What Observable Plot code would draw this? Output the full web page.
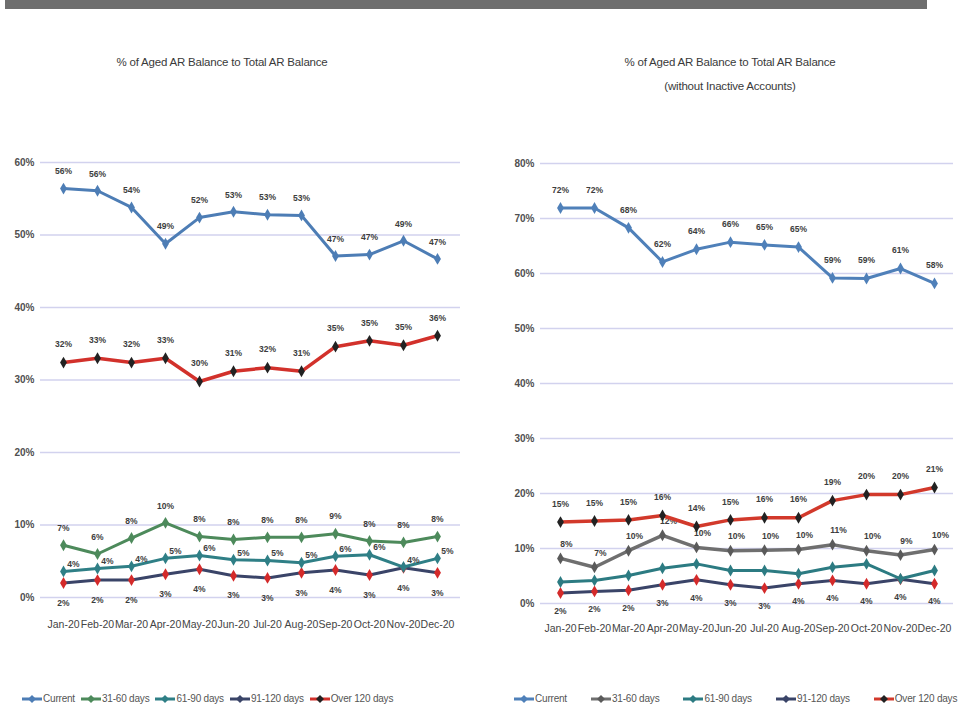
<!DOCTYPE html>
<html>
<head>
<meta charset="utf-8">
<script src="https://cdn.jsdelivr.net/npm/d3@7"></script>
<script src="https://cdn.jsdelivr.net/npm/@observablehq/plot@0.6"></script>
<style>
  html, body { margin: 0; padding: 0; background: #fff; }
  body { width: 963px; height: 713px; position: relative; overflow: hidden;
         font-family: "Liberation Sans", Arial, sans-serif; color: #444; }
  .band { position: absolute; left: 5px; top: 0; width: 922px; height: 9px; background: #6e6e6e; }
  .title { position: absolute; text-align: center; font-size: 11.5px; line-height: 24px; color: #3a3a3a; letter-spacing: -0.2px; }
  .chart { position: absolute; top: 130px; }
  .legend { position: absolute; top: 693px; display: flex; align-items: center; font-size: 10px; color: #555; white-space: nowrap; letter-spacing: -0.2px; }
  .legend span.item { display: inline-flex; align-items: center; }
  .legend svg { margin-right: 1px; }
</style>
</head>
<body>
<div class="band"></div>
<div class="title" style="left:0;top:50px;width:444px;">% of Aged AR Balance to Total AR Balance</div>
<div class="title" style="left:500px;top:50px;width:460px;">% of Aged AR Balance to Total AR Balance<br>(without Inactive Accounts)</div>
<div class="chart" id="left" style="left:0;"></div>
<div class="chart" id="right" style="left:485px;"></div>
<div class="legend" id="legendLeft" style="left:22px;"></div>
<div class="legend" id="legendRight" style="left:514px;"></div>
<script>
// Months on the x axis
const months = ["Jan-20","Feb-20","Mar-20","Apr-20","May-20","Jun-20","Jul-20","Aug-20","Sep-20","Oct-20","Nov-20","Dec-20"];
const seriesNames = ["Current","31-60 days","61-90 days","91-120 days","Over 120 days"];

// All accounts (% of total AR balance)
const allCurrent  = [56.4, 56.1, 53.8, 48.8, 52.4, 53.2, 52.8, 52.7, 47.1, 47.3, 49.2, 46.7];
const all31to60   = [7.2, 6.0, 8.2, 10.3, 8.4, 8.0, 8.3, 8.3, 8.8, 7.8, 7.6, 8.4];
const all61to90   = [3.6, 4.0, 4.3, 5.4, 5.8, 5.2, 5.1, 4.8, 5.7, 5.9, 4.2, 5.4];
const all91to120  = [2.0, 2.4, 2.4, 3.2, 3.9, 3.0, 2.7, 3.4, 3.8, 3.1, 4.1, 3.4];
const allOver120  = [32.4, 33.0, 32.4, 33.0, 29.8, 31.2, 31.7, 31.2, 34.6, 35.4, 34.8, 36.1];

// Without inactive accounts
const actCurrent  = [71.9, 71.9, 68.3, 62.1, 64.4, 65.7, 65.2, 64.8, 59.2, 59.1, 60.9, 58.2];
const act31to60   = [8.2, 6.6, 9.6, 12.4, 10.2, 9.6, 9.7, 9.8, 10.7, 9.6, 8.8, 9.8];
const act61to90   = [3.9, 4.2, 5.1, 6.4, 7.2, 6.0, 6.0, 5.4, 6.6, 7.2, 4.5, 6.0];
const act91to120  = [1.9, 2.2, 2.4, 3.4, 4.3, 3.4, 2.8, 3.6, 4.2, 3.6, 4.4, 3.6];
const actOver120  = [14.8, 15.0, 15.2, 16.0, 14.0, 15.2, 15.6, 15.6, 18.7, 19.8, 19.8, 21.1];

const labelFont = "Liberation Sans, Arial, sans-serif";
const pct = v => Math.round(v) + "%";

function rows(values) { return values.map((v, i) => ({month: months[i], value: v})); }

// One series: line, diamond markers and optional value labels
function seriesMarks(values, o) {
  const data = rows(values);
  const marks = [
    Plot.line(data, {x: "month", y: "value", stroke: o.stroke, strokeWidth: o.width ?? 3, strokeLinejoin: "round"}),
    Plot.dot(data, {x: "month", y: "value", symbol: "diamond", r: o.r ?? 3.6, fill: o.marker ?? o.stroke, stroke: "none"})
  ];
  if (o.label) {
    marks.push(Plot.text(data, {x: "month", y: "value", text: d => pct(d.value), dx: o.dx ?? 0, dy: o.dy ?? -16,
      fill: "#3d3d3d", fontSize: 8.5, fontWeight: "bold", fontFamily: labelFont}));
  }
  return marks;
}

function chart(o) {
  return Plot.plot({
    width: o.width, height: 520,
    marginLeft: o.marginLeft, marginRight: o.marginRight, marginTop: o.marginTop, marginBottom: o.marginBottom,
    style: {fontFamily: labelFont, background: "transparent", color: "#444", overflow: "visible"},
    x: {type: "point", domain: months, padding: o.padding},
    y: {domain: [0, o.yMax]},
    marks: [
      Plot.gridY(d3.range(0, o.yMax + 1, 10), {stroke: "#d2d2ee", strokeOpacity: 1, strokeWidth: 1.3}),
      Plot.axisY(d3.range(0, o.yMax + 1, 10), {tickSize: 0, tickPadding: 6, tickFormat: d => d + "%", fontSize: 10, fontWeight: "bold", fill: "#505050", label: null}),
      Plot.axisX({tickSize: 0, tickPadding: o.xPad, fontSize: 10.5, fill: "#444", label: null}),
      ...o.marks
    ]
  });
}

document.getElementById("left").append(chart({
  width: 480, marginLeft: 40, marginRight: 20, marginTop: 32, marginBottom: 53, padding: 0.58, yMax: 60, xPad: 23,
  marks: [
    ...seriesMarks(all91to120, {stroke: "#3a4468", marker: "#d42a2a", label: true, dy: 20}),
    ...seriesMarks(all61to90, {stroke: "#2f7f86", label: true, dx: 10, dy: -7}),
    ...seriesMarks(all31to60, {stroke: "#4d8a5b", label: true, dy: -17}),
    ...seriesMarks(allOver120, {stroke: "#d2312b", marker: "#222", width: 3.5, label: true, dy: -18}),
    ...seriesMarks(allCurrent, {stroke: "#4d7db5", label: true, dy: -17})
  ]
}));

document.getElementById("right").append(chart({
  width: 478, marginLeft: 55, marginRight: 10, marginTop: 33, marginBottom: 47, padding: 0.49, yMax: 80, xPad: 21,
  marks: [
    ...seriesMarks(act91to120, {stroke: "#3a4468", marker: "#d42a2a", label: true, dy: 18}),
    ...seriesMarks(act61to90, {stroke: "#2c7b82"}),
    ...seriesMarks(act31to60, {stroke: "#6f6f6f", marker: "#5a5a5a", width: 3.5, label: true, dx: 6, dy: -14}),
    ...seriesMarks(actOver120, {stroke: "#d2392b", marker: "#222", width: 3.5, label: true, dy: -18}),
    ...seriesMarks(actCurrent, {stroke: "#4f80b9", label: true, dy: -18})
  ]
}));

// Legends below each chart
function legend(id, colors, markers, gap) {
  const el = document.getElementById(id);
  seriesNames.forEach((name, i) => {
    const item = document.createElement("span");
    item.className = "item";
    if (i < seriesNames.length - 1) item.style.marginRight = gap + "px";
    item.innerHTML = `<svg width="20" height="10"><line x1="0" y1="5" x2="20" y2="5" stroke="${colors[i]}" stroke-width="3"/>` +
      `<path d="M10,1 L14,5 L10,9 L6,5 Z" fill="${markers[i]}"/></svg>${name}`;
    el.append(item);
  });
}
legend("legendLeft", ["#4d7db5", "#4d8a5b", "#2f7f86", "#3a4468", "#d2312b"], ["#4d7db5", "#4d8a5b", "#2f7f86", "#3a4468", "#222"], 6);
legend("legendRight", ["#4f80b9", "#6f6f6f", "#2c7b82", "#3a4468", "#d2392b"], ["#4f80b9", "#5a5a5a", "#2c7b82", "#3a4468", "#222"], 24);
</script>
</body>
</html>
